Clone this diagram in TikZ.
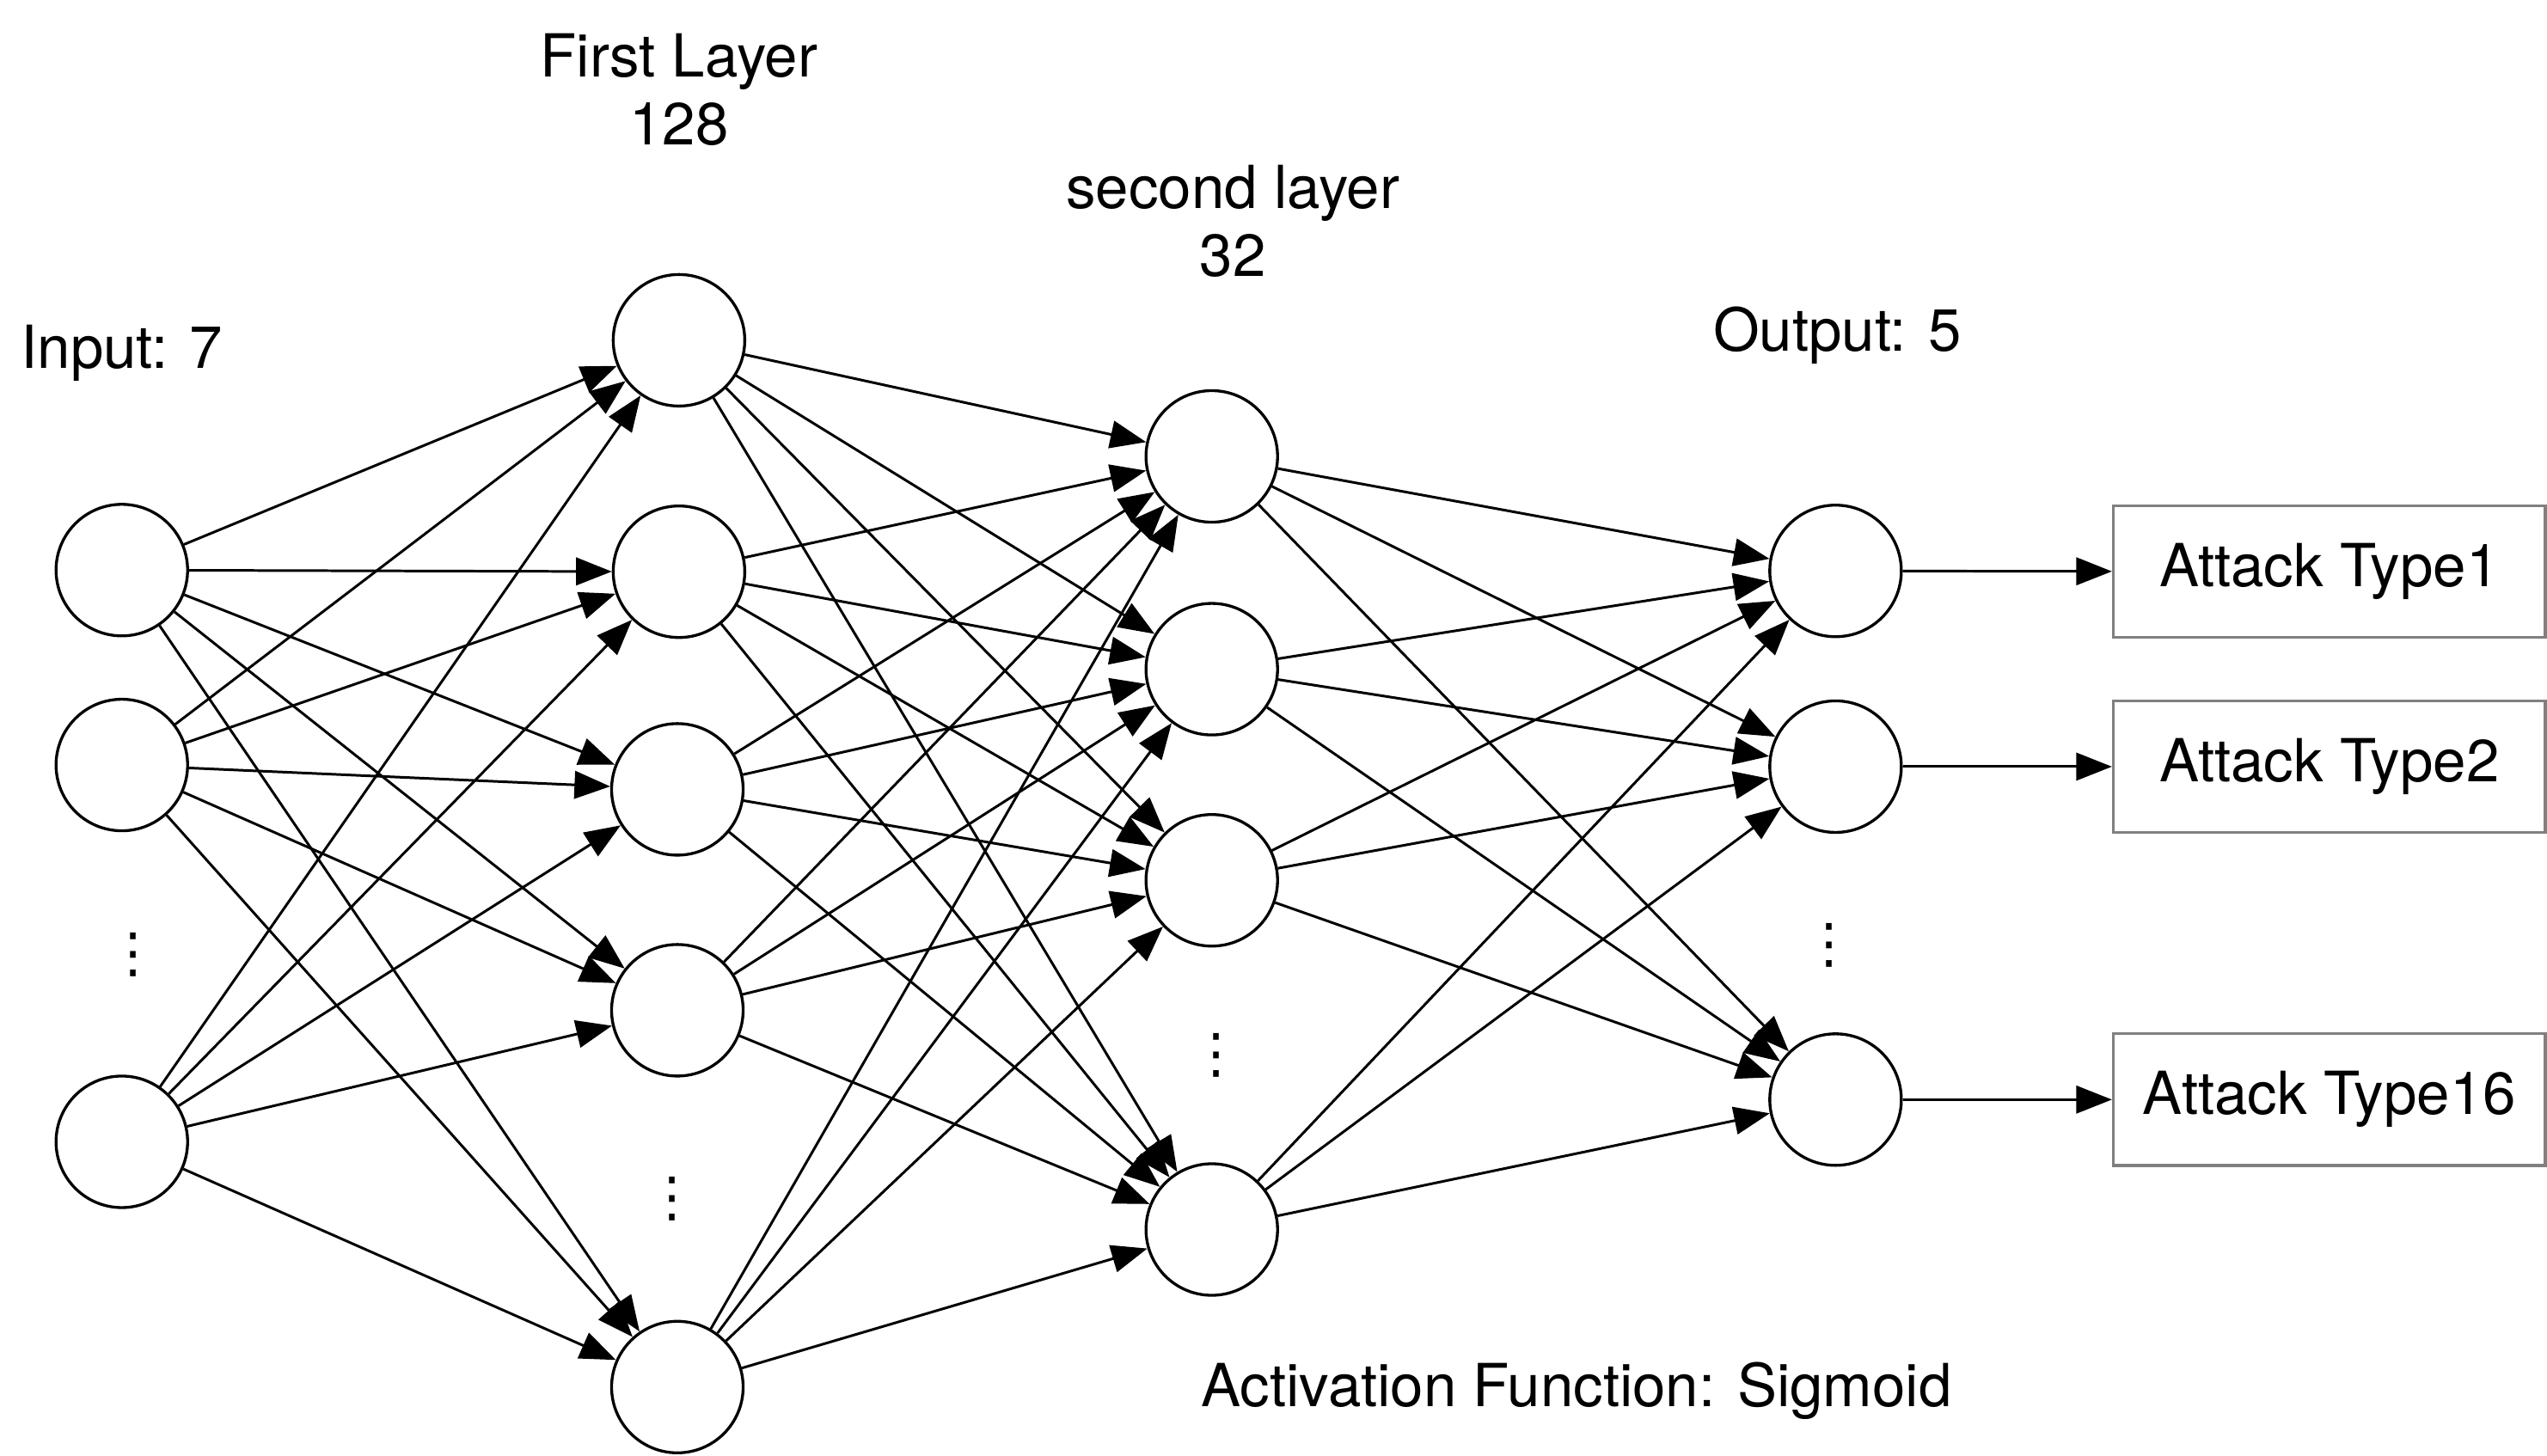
\documentclass[tikz,border=0pt]{standalone}
\usepackage{fontspec}
\setmainfont{TeX Gyre Heros}
\newfontfamily\dotsfont{DejaVu Sans}
\usetikzlibrary{arrows.meta}
\newcommand{\mylbl}{\fontsize{20.8}{23.8}\selectfont}
\begin{document}
\begin{tikzpicture}[x=0.02cm,y=-0.02cm,
  neuron/.style={circle,draw,line width=1pt,minimum size=1.62cm,inner sep=0pt},
  outbox/.style={draw=black!50,line width=1pt,minimum width=5.32cm,minimum height=1.62cm,inner sep=0pt,font=\mylbl},
  conn/.style={line width=0.9pt,-{Triangle[length=0.44cm,width=0.34cm]}},
  lbl/.style={font=\mylbl,align=center,inner sep=0pt},
  dotcol/.style={font=\dotsfont\fontsize{19}{19}\selectfont,inner sep=0pt}]
\useasboundingbox (0,0) rectangle (1568,896.4);
% input layer
\node[neuron] (i1) at (75,351) {};
\node[neuron] (i2) at (75,471) {};
\node[neuron] (i3) at (75,703) {};
% first layer
\node[neuron] (f1) at (418,209.5) {};
\node[neuron] (f2) at (418,352) {};
\node[neuron] (f3) at (417,486) {};
\node[neuron] (f4) at (417,622) {};
\node[neuron] (f5) at (417,854) {};
% second layer
\node[neuron] (s1) at (746,281) {};
\node[neuron] (s2) at (746,412) {};
\node[neuron] (s3) at (746,542) {};
\node[neuron] (s4) at (746,757) {};
% output layer
\node[neuron] (o1) at (1130,351.5) {};
\node[neuron] (o2) at (1130,472) {};
\node[neuron] (o3) at (1130,677) {};
% boxes
\node[outbox] (b1) at (1434,352) {Attack Type1};
\node[outbox] (b2) at (1434,472) {Attack Type2};
\node[outbox] (b3) at (1434,677) {Attack Type16};
% ellipses
\node[dotcol] (d1) at (82,588) {⋮};
\node[dotcol] (d2) at (414,738) {⋮};
\node[dotcol] (d3) at (749,650) {⋮};
\node[dotcol] (d4) at (1126,582) {⋮};
% labels
\node[lbl,anchor=base] (tin) at (75,226.6) {Input: 7};
\node[lbl] (tf) at (418,55.4) {First Layer\\128};
\node[lbl] (ts) at (759,136.4) {second layer\\32};
\node[lbl,anchor=base] (tout) at (1131,216.3) {Output: 5};
\node[lbl,anchor=base] (tact) at (970.5,866) {Activation Function: Sigmoid};
% connections
\foreach \a in {i1,i2,i3}
  \foreach \b in {f1,f2,f3,f4,f5}
    \draw[conn] (\a) -- (\b);
\foreach \a in {f1,f2,f3,f4,f5}
  \foreach \b in {s1,s2,s3,s4}
    \draw[conn] (\a) -- (\b);
\foreach \a in {s1,s2,s3,s4}
  \foreach \b in {o1,o2,o3}
    \draw[conn] (\a) -- (\b);
\draw[conn] (o1) -- (b1);
\draw[conn] (o2) -- (b2);
\draw[conn] (o3) -- (b3);
\end{tikzpicture}
\end{document}
